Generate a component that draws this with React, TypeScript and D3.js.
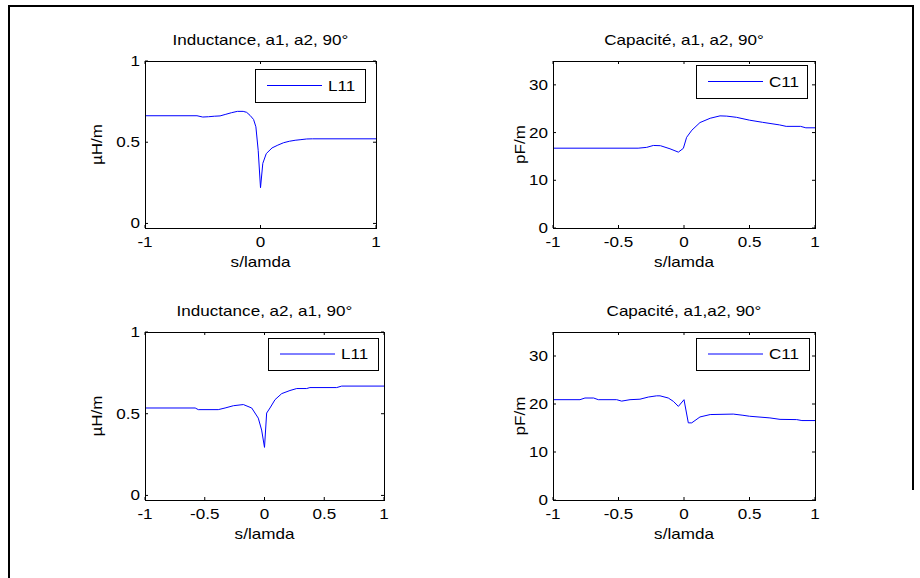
import React from "react";
import * as d3 from "d3";

// ---------- data ----------
const l11aX = [-1, -0.55, -0.5, -0.45, -0.4, -0.35, -0.3, -0.25, -0.2, -0.15, -0.12, -0.09, -0.06, -0.04, -0.02, 0, 0.02, 0.05, 0.1, 0.15, 0.2, 0.25, 0.3, 0.35, 0.4, 0.45, 1];
const l11aY = [0.663, 0.663, 0.655, 0.657, 0.66, 0.662, 0.672, 0.682, 0.69, 0.69, 0.684, 0.665, 0.64, 0.595, 0.45, 0.22, 0.37, 0.43, 0.465, 0.482, 0.497, 0.506, 0.512, 0.516, 0.52, 0.521, 0.521];

const c11aX = [-1, -0.35, -0.285, -0.234, -0.18, -0.107, -0.043, -0.005, 0.02, 0.06, 0.122, 0.2, 0.275, 0.326, 0.4, 0.5, 0.6, 0.73, 0.78, 0.89, 0.93, 1];
const c11aY = [16.73, 16.73, 16.9, 17.3, 17.25, 16.6, 15.9, 16.7, 19.0, 20.5, 22.1, 23.0, 23.5, 23.45, 23.2, 22.6, 22.15, 21.6, 21.3, 21.3, 21.0, 21.0];

const l11bX = [-1, -0.58, -0.554, -0.387, -0.33, -0.26, -0.177, -0.107, -0.052, -0.024, 0, 0.018, 0.046, 0.088, 0.144, 0.213, 0.27, 0.353, 0.38, 0.604, 0.646, 1];
const l11bY = [0.535, 0.535, 0.525, 0.525, 0.535, 0.549, 0.556, 0.535, 0.473, 0.4, 0.294, 0.504, 0.535, 0.586, 0.623, 0.642, 0.654, 0.654, 0.66, 0.66, 0.669, 0.669];

const c11bX = [-1, -0.794, -0.756, -0.69, -0.654, -0.514, -0.476, -0.412, -0.336, -0.272, -0.209, -0.183, -0.12, -0.081, -0.043, 0, 0.033, 0.059, 0.122, 0.2, 0.376, 0.45, 0.5, 0.656, 0.733, 0.86, 0.9, 1];
const c11bY = [20.9, 20.9, 21.25, 21.25, 20.9, 20.9, 20.6, 20.9, 21.0, 21.45, 21.7, 21.7, 21.25, 20.55, 19.5, 20.9, 16.07, 16.07, 17.3, 17.8, 17.9, 17.65, 17.45, 17.1, 16.8, 16.75, 16.55, 16.55];

const titles = ["Inductance, a1, a2, 90°", "Capacité, a1, a2, 90°", "Inductance, a2, a1, 90°", "Capacité, a1,a2, 90°"];
const yLabels = ["µH/m", "pF/m", "µH/m", "pF/m"];
const legendNames = ["L11", "C11", "L11", "C11"];
const xLabel = "s/lamda";
const xTicksShort = [-1, 0, 1];
const xTicksFull = [-1, -0.5, 0, 0.5, 1];
const yTicksL = [0, 0.5, 1];
const yTicksC = [0, 10, 20, 30];

// ---------- layout ----------
const panels = [
  { x: l11aX, y: l11aY, left: 145, right: 376, top: 61, bottom: 228, yDom: [-0.028, 1], yTicks: yTicksL, xTicks: xTicksShort, ylx: 97, leg: [255, 365, 69, 102] },
  { x: c11aX, y: c11aY, left: 553, right: 815, top: 61, bottom: 228, yDom: [0, 35], yTicks: yTicksC, xTicks: xTicksFull, ylx: 520, leg: [696, 807, 65, 98] },
  { x: l11bX, y: l11bY, left: 145, right: 384, top: 332, bottom: 500, yDom: [-0.028, 1], yTicks: yTicksL, xTicks: xTicksFull, ylx: 97, leg: [268, 378, 338, 370] },
  { x: c11bX, y: c11bY, left: 553, right: 815, top: 332, bottom: 500, yDom: [0, 35], yTicks: yTicksC, xTicks: xTicksFull, ylx: 520, leg: [696, 809, 338, 370] },
];

const FONT = "'Liberation Sans', Arial, sans-serif";
const SX = 1.22;

function T({ x, y, anchor = "middle", size = 14, rotate = 0, children }: any) {
  const tr = rotate ? `translate(${x},${y}) rotate(${rotate}) scale(${SX},1)` : `translate(${x},${y}) scale(${SX},1)`;
  return (
    <text transform={tr} textAnchor={anchor} fontFamily={FONT} fontSize={size} fill="#000">
      {children}
    </text>
  );
}

function fmt(v: number) {
  return String(v);
}

function Panel({ p, i }: any) {
  const xs = d3.scaleLinear().domain([-1, 1]).range([p.left, p.right]);
  const ys = d3.scaleLinear().domain(p.yDom).range([p.bottom, p.top]);
  const pts: [number, number][] = p.x.map((v: number, k: number) => [v, p.y[k]]);
  const line = d3.line<[number, number]>().x((d) => xs(d[0])).y((d) => ys(d[1]));
  const tl = 3;
  const [lx0, lx1, ly0, ly1] = p.leg;
  const lmid = (ly0 + ly1) / 2;
  const w = p.right - p.left;
  const h = p.bottom - p.top;
  return (
    <g>
      <rect x={p.left} y={p.top} width={w} height={h} fill="#fff" stroke="none" />
      <path d={line(pts) || ""} fill="none" stroke="#0000ff" strokeWidth={1} />
      {p.xTicks.map((t: number) => (
        <g key={"x" + t}>
          <line x1={xs(t)} x2={xs(t)} y1={p.bottom} y2={p.bottom - tl} stroke="#000" />
          <line x1={xs(t)} x2={xs(t)} y1={p.top} y2={p.top + tl} stroke="#000" />
          <T x={xs(t)} y={p.bottom + 19}>{fmt(t)}</T>
        </g>
      ))}
      {p.yTicks.map((t: number) => (
        <g key={"y" + t}>
          <line x1={p.left} x2={p.left + tl} y1={ys(t)} y2={ys(t)} stroke="#000" />
          <line x1={p.right} x2={p.right - tl} y1={ys(t)} y2={ys(t)} stroke="#000" />
          <T x={p.left - 5} y={ys(t) + 5} anchor="end">{fmt(t)}</T>
        </g>
      ))}
      <rect x={p.left + 0.5} y={p.top + 0.5} width={w} height={h} fill="none" stroke="#000" strokeWidth={1} />
      <T x={(p.left + p.right) / 2} y={p.top - 16}>{titles[i]}</T>
      <T x={(p.left + p.right) / 2} y={p.bottom + 39}>{xLabel}</T>
      <T x={p.ylx + 5} y={(p.top + p.bottom) / 2} rotate={-90}>{yLabels[i]}</T>
      <rect x={lx0 + 0.5} y={ly0 + 0.5} width={lx1 - lx0} height={ly1 - ly0} fill="#fff" stroke="#000" strokeWidth={1} />
      <line x1={lx0 + 12} x2={lx0 + 67} y1={lmid} y2={lmid} stroke="#0000ff" strokeWidth={1} />
      <T x={lx0 + 73} y={lmid + 5} anchor="start">{legendNames[i]}</T>
    </g>
  );
}

export default function App() {
  return (
    <svg width={920} height={578} style={{ position: "absolute", left: 0, top: 0, background: "#fff" }}>
      <rect x={0} y={0} width={920} height={578} fill="#fff" />
      <path d="M9,578 V6 H913 V490" fill="none" stroke="#000" strokeWidth={2} />
      {panels.map((p, i) => (
        <Panel key={i} p={p} i={i} />
      ))}
    </svg>
  );
}
